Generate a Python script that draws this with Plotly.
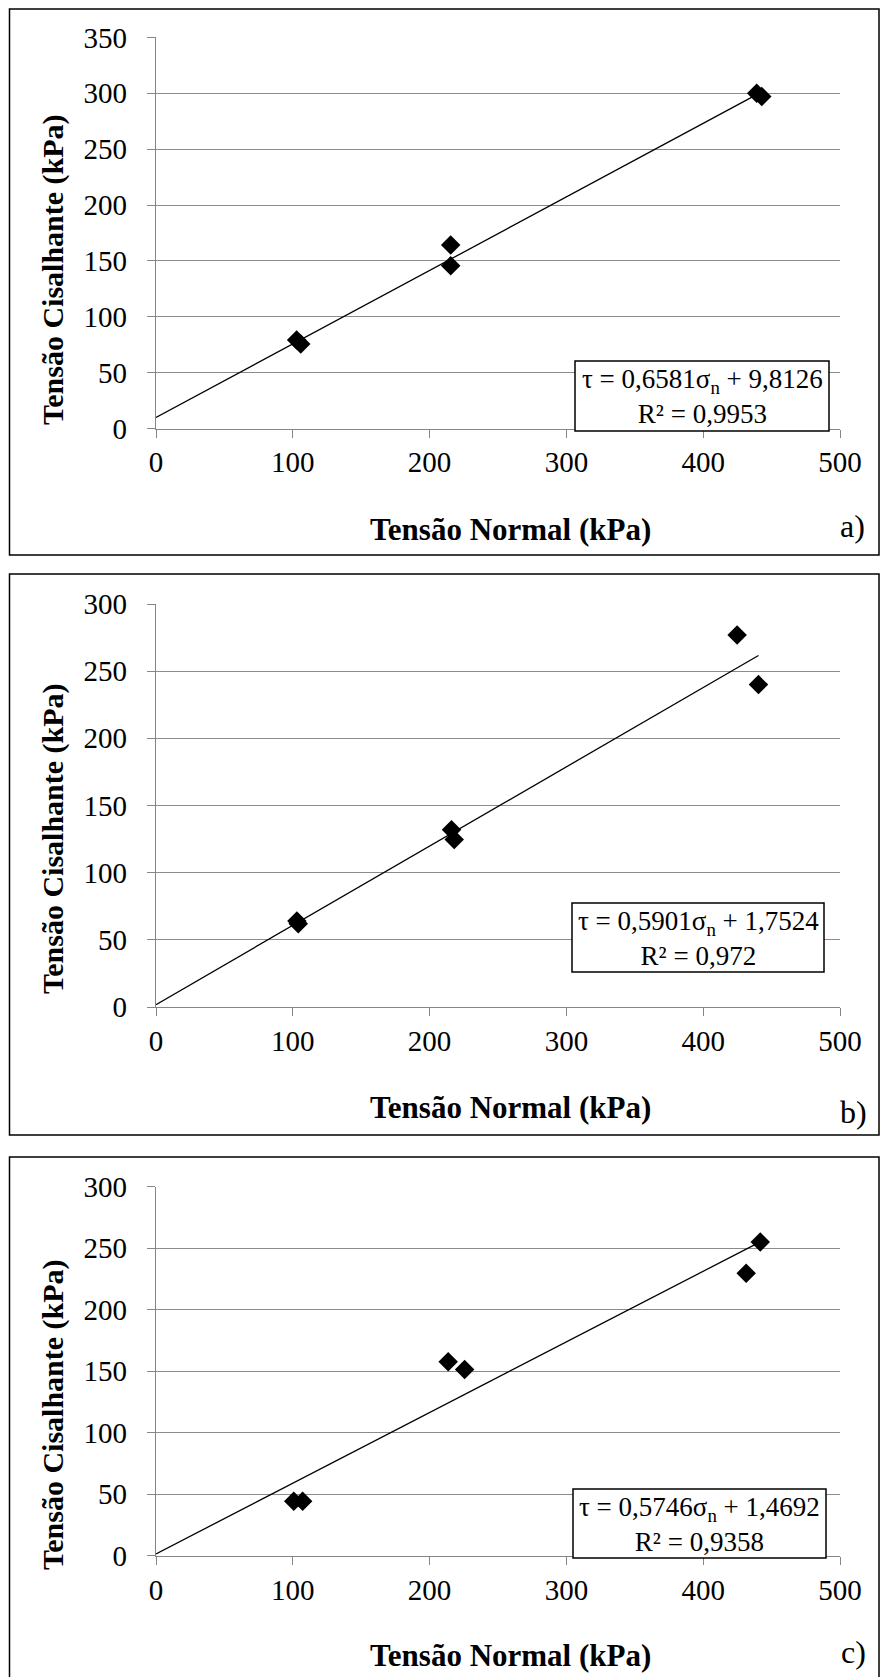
import plotly.graph_objects as go

W, H = 881, 1677

# ---------------- data ----------------
panel_labels = ["a)", "b)", "c)"]

a_x = [102.8, 105.8, 215.4, 215.4, 439.1, 442.8]
a_y = [79.2, 75.6, 164.3, 145.7, 300.1, 297.0]
b_x = [103.0, 104.0, 216.0, 218.0, 424.8, 440.4]
b_y = [64.0, 62.0, 132.0, 124.7, 276.9, 240.0]
c_x = [100.7, 107.2, 213.6, 225.6, 431.4, 441.7]
c_y = [44.3, 44.3, 157.8, 151.5, 229.7, 255.1]

slopes = [0.6581, 0.5901, 0.5746]
intercepts = [9.8126, 1.7524, 1.4692]
eq_texts = ["τ = 0,6581σ<sub>n</sub> + 9,8126",
            "τ = 0,5901σ<sub>n</sub> + 1,7524",
            "τ = 0,5746σ<sub>n</sub> + 1,4692"]
r2_texts = ["R² = 0,9953", "R² = 0,972", "R² = 0,9358"]
y_max = [350, 300, 300]
x_ticks = [0, 100, 200, 300, 400, 500]

x_title = "Tensão Normal (kPa)"
y_title = "Tensão Cisalhante (kPa)"

# ---------------- layout geometry (pixels) ----------------
FONT = "Liberation Serif, Times New Roman, serif"
plot_x0, plot_x1 = 156, 840
plot_y = [(37.4, 428.5), (604.0, 1007.0), (1186.8, 1555.7)]   # (top, bottom)
frames = [(9.5, 9, 879, 555), (9.5, 574, 879, 1135), (9.5, 1157, 879, 1700)]
boxes = [(575, 361, 829, 431), (572, 903, 824, 972), (573, 1489, 826, 1558)]
xtitle_y = [529, 1107, 1655]
ytitle_y = [270, 839, 1415]
lab_pos = [(852, 526), (853, 1112), (853, 1652)]


def px(p):
    return p / W


def py(p):
    return 1 - p / H


fig = go.Figure()
xs = [a_x, b_x, c_x]
ys = [a_y, b_y, c_y]

shapes = []
annotations = []
for i in range(3):
    sfx = "" if i == 0 else str(i + 1)
    xa, ya = "x" + sfx, "y" + sfx
    # trend line
    lx = [0, max(xs[i])]
    ly = [slopes[i] * v + intercepts[i] for v in lx]
    fig.add_trace(go.Scatter(x=lx, y=ly, mode="lines",
                             line=dict(color="black", width=1.3),
                             xaxis=xa, yaxis=ya, showlegend=False,
                             hoverinfo="skip"))
    fig.add_trace(go.Scatter(x=xs[i], y=ys[i], mode="markers",
                             marker=dict(symbol="diamond", size=15,
                                         color="black"),
                             xaxis=xa, yaxis=ya, showlegend=False))
    top, bot = plot_y[i]
    axis_common = dict(showline=True, linecolor="#868686", linewidth=1.3,
                       ticks="outside", ticklen=8, tickcolor="#868686",
                       tickwidth=1.3, automargin=False,
                       tickfont=dict(family=FONT, size=29, color="black"),
                       zeroline=False, fixedrange=True)
    fig.layout["xaxis" + sfx] = dict(
        domain=[px(plot_x0), px(plot_x1)], range=[0, 500],
        tickvals=x_ticks, showgrid=False, anchor=ya, **axis_common)
    fig.layout["yaxis" + sfx] = dict(
        domain=[py(bot), py(top)], range=[0, y_max[i]], dtick=50,
        showgrid=True, gridcolor="#8c8c8c", gridwidth=1.3, anchor=xa,
        ticklabelstandoff=14, **axis_common)

    fx0, fy0, fx1, fy1 = frames[i]
    shapes.append(dict(type="rect", xref="paper", yref="paper",
                       x0=px(fx0), x1=px(fx1), y0=py(fy1), y1=py(fy0),
                       line=dict(color="black", width=1.5),
                       fillcolor="rgba(0,0,0,0)", layer="above"))
    bx0, by0, bx1, by1 = boxes[i]
    shapes.append(dict(type="rect", xref="paper", yref="paper",
                       x0=px(bx0), x1=px(bx1), y0=py(by1), y1=py(by0),
                       line=dict(color="black", width=1.5),
                       fillcolor="white", layer="above"))
    cx = (bx0 + bx1) / 2
    annotations.append(dict(text=eq_texts[i] + "<br>" + r2_texts[i],
                            xref="paper", yref="paper",
                            x=px(cx), y=py((by0 + by1) / 2 + 1),
                            xanchor="center", yanchor="middle",
                            align="center", showarrow=False,
                            font=dict(family=FONT, size=27, color="black")))
    annotations.append(dict(text="<b>" + x_title + "</b>", xref="paper",
                            yref="paper", x=px(510), y=py(xtitle_y[i]),
                            xanchor="center", yanchor="middle",
                            showarrow=False,
                            font=dict(family=FONT, size=31, color="black")))
    annotations.append(dict(text="<b>" + y_title + "</b>", xref="paper",
                            yref="paper", x=px(53), y=py(ytitle_y[i]),
                            xanchor="center", yanchor="middle",
                            textangle=-90, showarrow=False,
                            font=dict(family=FONT, size=30, color="black")))
    annotations.append(dict(text=panel_labels[i], xref="paper", yref="paper",
                            x=px(lab_pos[i][0]), y=py(lab_pos[i][1]),
                            xanchor="center", yanchor="middle",
                            showarrow=False,
                            font=dict(family=FONT, size=32, color="black")))

fig.update_layout(width=W, height=H, margin=dict(l=0, r=0, t=0, b=0),
                  paper_bgcolor="white", plot_bgcolor="white",
                  shapes=shapes, annotations=annotations, showlegend=False)

fig.write_html("out.html", config={"displayModeBar": False})
